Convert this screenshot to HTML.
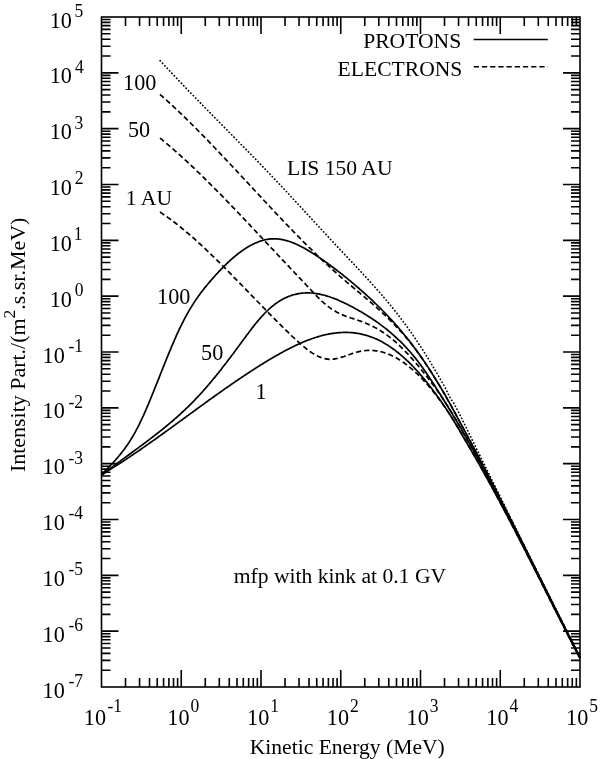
<!DOCTYPE html>
<html><head><meta charset="utf-8"><style>
html,body{margin:0;padding:0;background:#fff;width:600px;height:759px;overflow:hidden}
svg{display:block;filter:grayscale(1)}
text{font-family:"Liberation Serif",serif;fill:#000}
</style></head><body>
<svg width="600" height="759" viewBox="0 0 600 759">
<rect x="101.5" y="17.0" width="478.5" height="670.0" fill="none" stroke="#000" stroke-width="1.6"/><path d="M125.51 687.0V678.0M125.51 17.0V26.0M139.55 687.0V678.0M139.55 17.0V26.0M149.51 687.0V678.0M149.51 17.0V26.0M157.24 687.0V678.0M157.24 17.0V26.0M163.56 687.0V678.0M163.56 17.0V26.0M168.90 687.0V678.0M168.90 17.0V26.0M173.52 687.0V678.0M173.52 17.0V26.0M177.60 687.0V678.0M177.60 17.0V26.0M181.25 687.0V670.0M181.25 17.0V34.0M205.26 687.0V678.0M205.26 17.0V26.0M219.30 687.0V678.0M219.30 17.0V26.0M229.26 687.0V678.0M229.26 17.0V26.0M236.99 687.0V678.0M236.99 17.0V26.0M243.31 687.0V678.0M243.31 17.0V26.0M248.65 687.0V678.0M248.65 17.0V26.0M253.27 687.0V678.0M253.27 17.0V26.0M257.35 687.0V678.0M257.35 17.0V26.0M261.00 687.0V670.0M261.00 17.0V34.0M285.01 687.0V678.0M285.01 17.0V26.0M299.05 687.0V678.0M299.05 17.0V26.0M309.01 687.0V678.0M309.01 17.0V26.0M316.74 687.0V678.0M316.74 17.0V26.0M323.06 687.0V678.0M323.06 17.0V26.0M328.40 687.0V678.0M328.40 17.0V26.0M333.02 687.0V678.0M333.02 17.0V26.0M337.10 687.0V678.0M337.10 17.0V26.0M340.75 687.0V670.0M340.75 17.0V34.0M364.76 687.0V678.0M364.76 17.0V26.0M378.80 687.0V678.0M378.80 17.0V26.0M388.76 687.0V678.0M388.76 17.0V26.0M396.49 687.0V678.0M396.49 17.0V26.0M402.81 687.0V678.0M402.81 17.0V26.0M408.15 687.0V678.0M408.15 17.0V26.0M412.77 687.0V678.0M412.77 17.0V26.0M416.85 687.0V678.0M416.85 17.0V26.0M420.50 687.0V670.0M420.50 17.0V34.0M444.51 687.0V678.0M444.51 17.0V26.0M458.55 687.0V678.0M458.55 17.0V26.0M468.51 687.0V678.0M468.51 17.0V26.0M476.24 687.0V678.0M476.24 17.0V26.0M482.56 687.0V678.0M482.56 17.0V26.0M487.90 687.0V678.0M487.90 17.0V26.0M492.52 687.0V678.0M492.52 17.0V26.0M496.60 687.0V678.0M496.60 17.0V26.0M500.25 687.0V670.0M500.25 17.0V34.0M524.26 687.0V678.0M524.26 17.0V26.0M538.30 687.0V678.0M538.30 17.0V26.0M548.26 687.0V678.0M548.26 17.0V26.0M555.99 687.0V678.0M555.99 17.0V26.0M562.31 687.0V678.0M562.31 17.0V26.0M567.65 687.0V678.0M567.65 17.0V26.0M572.27 687.0V678.0M572.27 17.0V26.0M576.35 687.0V678.0M576.35 17.0V26.0M101.5 670.19H110.5M580.0 670.19H571.0M101.5 660.36H110.5M580.0 660.36H571.0M101.5 653.38H110.5M580.0 653.38H571.0M101.5 647.97H110.5M580.0 647.97H571.0M101.5 643.55H110.5M580.0 643.55H571.0M101.5 639.82H110.5M580.0 639.82H571.0M101.5 636.58H110.5M580.0 636.58H571.0M101.5 633.72H110.5M580.0 633.72H571.0M101.5 631.17H118.5M580.0 631.17H563.0M101.5 614.36H110.5M580.0 614.36H571.0M101.5 604.53H110.5M580.0 604.53H571.0M101.5 597.55H110.5M580.0 597.55H571.0M101.5 592.14H110.5M580.0 592.14H571.0M101.5 587.72H110.5M580.0 587.72H571.0M101.5 583.98H110.5M580.0 583.98H571.0M101.5 580.74H110.5M580.0 580.74H571.0M101.5 577.89H110.5M580.0 577.89H571.0M101.5 575.33H118.5M580.0 575.33H563.0M101.5 558.53H110.5M580.0 558.53H571.0M101.5 548.69H110.5M580.0 548.69H571.0M101.5 541.72H110.5M580.0 541.72H571.0M101.5 536.31H110.5M580.0 536.31H571.0M101.5 531.89H110.5M580.0 531.89H571.0M101.5 528.15H110.5M580.0 528.15H571.0M101.5 524.91H110.5M580.0 524.91H571.0M101.5 522.05H110.5M580.0 522.05H571.0M101.5 519.50H118.5M580.0 519.50H563.0M101.5 502.69H110.5M580.0 502.69H571.0M101.5 492.86H110.5M580.0 492.86H571.0M101.5 485.88H110.5M580.0 485.88H571.0M101.5 480.47H110.5M580.0 480.47H571.0M101.5 476.05H110.5M580.0 476.05H571.0M101.5 472.32H110.5M580.0 472.32H571.0M101.5 469.08H110.5M580.0 469.08H571.0M101.5 466.22H110.5M580.0 466.22H571.0M101.5 463.67H118.5M580.0 463.67H563.0M101.5 446.86H110.5M580.0 446.86H571.0M101.5 437.03H110.5M580.0 437.03H571.0M101.5 430.05H110.5M580.0 430.05H571.0M101.5 424.64H110.5M580.0 424.64H571.0M101.5 420.22H110.5M580.0 420.22H571.0M101.5 416.48H110.5M580.0 416.48H571.0M101.5 413.24H110.5M580.0 413.24H571.0M101.5 410.39H110.5M580.0 410.39H571.0M101.5 407.83H118.5M580.0 407.83H563.0M101.5 391.03H110.5M580.0 391.03H571.0M101.5 381.19H110.5M580.0 381.19H571.0M101.5 374.22H110.5M580.0 374.22H571.0M101.5 368.81H110.5M580.0 368.81H571.0M101.5 364.39H110.5M580.0 364.39H571.0M101.5 360.65H110.5M580.0 360.65H571.0M101.5 357.41H110.5M580.0 357.41H571.0M101.5 354.55H110.5M580.0 354.55H571.0M101.5 352.00H118.5M580.0 352.00H563.0M101.5 335.19H110.5M580.0 335.19H571.0M101.5 325.36H110.5M580.0 325.36H571.0M101.5 318.38H110.5M580.0 318.38H571.0M101.5 312.97H110.5M580.0 312.97H571.0M101.5 308.55H110.5M580.0 308.55H571.0M101.5 304.82H110.5M580.0 304.82H571.0M101.5 301.58H110.5M580.0 301.58H571.0M101.5 298.72H110.5M580.0 298.72H571.0M101.5 296.17H118.5M580.0 296.17H563.0M101.5 279.36H110.5M580.0 279.36H571.0M101.5 269.53H110.5M580.0 269.53H571.0M101.5 262.55H110.5M580.0 262.55H571.0M101.5 257.14H110.5M580.0 257.14H571.0M101.5 252.72H110.5M580.0 252.72H571.0M101.5 248.98H110.5M580.0 248.98H571.0M101.5 245.74H110.5M580.0 245.74H571.0M101.5 242.89H110.5M580.0 242.89H571.0M101.5 240.33H118.5M580.0 240.33H563.0M101.5 223.53H110.5M580.0 223.53H571.0M101.5 213.69H110.5M580.0 213.69H571.0M101.5 206.72H110.5M580.0 206.72H571.0M101.5 201.31H110.5M580.0 201.31H571.0M101.5 196.89H110.5M580.0 196.89H571.0M101.5 193.15H110.5M580.0 193.15H571.0M101.5 189.91H110.5M580.0 189.91H571.0M101.5 187.05H110.5M580.0 187.05H571.0M101.5 184.50H118.5M580.0 184.50H563.0M101.5 167.69H110.5M580.0 167.69H571.0M101.5 157.86H110.5M580.0 157.86H571.0M101.5 150.88H110.5M580.0 150.88H571.0M101.5 145.47H110.5M580.0 145.47H571.0M101.5 141.05H110.5M580.0 141.05H571.0M101.5 137.32H110.5M580.0 137.32H571.0M101.5 134.08H110.5M580.0 134.08H571.0M101.5 131.22H110.5M580.0 131.22H571.0M101.5 128.67H118.5M580.0 128.67H563.0M101.5 111.86H110.5M580.0 111.86H571.0M101.5 102.03H110.5M580.0 102.03H571.0M101.5 95.05H110.5M580.0 95.05H571.0M101.5 89.64H110.5M580.0 89.64H571.0M101.5 85.22H110.5M580.0 85.22H571.0M101.5 81.48H110.5M580.0 81.48H571.0M101.5 78.24H110.5M580.0 78.24H571.0M101.5 75.39H110.5M580.0 75.39H571.0M101.5 72.83H118.5M580.0 72.83H563.0M101.5 56.03H110.5M580.0 56.03H571.0M101.5 46.19H110.5M580.0 46.19H571.0M101.5 39.22H110.5M580.0 39.22H571.0M101.5 33.81H110.5M580.0 33.81H571.0M101.5 29.39H110.5M580.0 29.39H571.0M101.5 25.65H110.5M580.0 25.65H571.0M101.5 22.41H110.5M580.0 22.41H571.0M101.5 19.55H110.5M580.0 19.55H571.0" fill="none" stroke="#000" stroke-width="1.6"/><path d="M473.7 39.5H547.8" stroke="#000" stroke-width="1.6"/><path d="M473.7 66.7H547.8" stroke="#000" stroke-width="1.6" stroke-dasharray="5.3 2.9"/>
<path d="M101.5 474.5 L102.5 473.5 L103.5 472.5 L104.5 471.5 L105.5 470.5 L106.5 469.5 L107.5 468.5 L108.5 467.4 L109.5 466.4 L110.5 465.4 L111.5 464.3 L112.5 463.3 L113.5 462.2 L114.5 461.1 L115.5 460.0 L116.5 458.9 L117.5 457.7 L118.5 456.5 L119.5 455.3 L120.5 454.1 L121.5 452.9 L122.5 451.6 L123.5 450.3 L124.5 448.9 L125.5 447.6 L126.5 446.1 L127.5 444.7 L128.5 443.2 L129.5 441.7 L130.5 440.1 L131.5 438.5 L132.5 436.8 L133.5 435.1 L134.5 433.4 L135.5 431.6 L136.5 429.7 L137.5 427.8 L138.5 425.8 L139.5 423.8 L140.5 421.7 L141.5 419.6 L142.5 417.5 L143.5 415.3 L144.5 413.1 L145.5 410.8 L146.5 408.5 L147.5 406.1 L148.5 403.8 L149.5 401.4 L150.5 399.0 L151.5 396.5 L152.5 394.1 L153.5 391.6 L154.5 389.1 L155.5 386.6 L156.5 384.1 L157.5 381.6 L158.5 379.1 L159.5 376.6 L160.5 374.0 L161.5 371.5 L162.5 369.0 L163.5 366.5 L164.5 364.0 L165.5 361.5 L166.5 359.0 L167.5 356.6 L168.5 354.1 L169.5 351.7 L170.5 349.3 L171.5 346.9 L172.5 344.6 L173.5 342.3 L174.5 340.0 L175.5 337.7 L176.5 335.4 L177.5 333.2 L178.5 331.1 L179.5 328.9 L180.5 326.8 L181.5 324.8 L182.5 322.8 L183.5 320.8 L184.5 318.9 L185.5 317.0 L186.5 315.1 L187.5 313.3 L188.5 311.6 L189.5 309.9 L190.5 308.2 L191.5 306.6 L192.5 305.0 L193.5 303.4 L194.5 301.9 L195.5 300.4 L196.5 298.9 L197.5 297.5 L198.5 296.0 L199.5 294.7 L200.5 293.3 L201.5 292.0 L202.5 290.7 L203.5 289.4 L204.5 288.1 L205.5 286.9 L206.5 285.7 L207.5 284.5 L208.5 283.3 L209.5 282.1 L210.5 280.9 L211.5 279.8 L212.5 278.6 L213.5 277.5 L214.5 276.4 L215.5 275.2 L216.5 274.1 L217.5 273.1 L218.5 272.0 L219.5 270.9 L220.5 269.9 L221.5 268.8 L222.5 267.8 L223.5 266.8 L224.5 265.8 L225.5 264.8 L226.5 263.9 L227.5 262.9 L228.5 262.0 L229.5 261.0 L230.5 260.1 L231.5 259.2 L232.5 258.4 L233.5 257.5 L234.5 256.6 L235.5 255.8 L236.5 255.0 L237.5 254.2 L238.5 253.4 L239.5 252.7 L240.5 251.9 L241.5 251.2 L242.5 250.5 L243.5 249.8 L244.5 249.1 L245.5 248.5 L246.5 247.8 L247.5 247.2 L248.5 246.6 L249.5 246.0 L250.5 245.5 L251.5 245.0 L252.5 244.4 L253.5 243.9 L254.5 243.5 L255.5 243.0 L256.5 242.6 L257.5 242.2 L258.5 241.8 L259.5 241.4 L260.5 241.1 L261.5 240.8 L262.5 240.5 L263.5 240.2 L264.5 239.9 L265.5 239.7 L266.5 239.5 L267.5 239.3 L268.5 239.2 L269.5 239.1 L270.5 238.9 L271.5 238.9 L272.5 238.8 L273.5 238.8 L274.5 238.8 L275.5 238.8 L276.5 238.8 L277.5 238.9 L278.5 239.0 L279.5 239.1 L280.5 239.3 L281.5 239.4 L282.5 239.6 L283.5 239.8 L284.5 240.1 L285.5 240.3 L286.5 240.6 L287.5 240.9 L288.5 241.2 L289.5 241.5 L290.5 241.8 L291.5 242.2 L292.5 242.6 L293.5 243.0 L294.5 243.4 L295.5 243.8 L296.5 244.3 L297.5 244.7 L298.5 245.2 L299.5 245.7 L300.5 246.2 L301.5 246.7 L302.5 247.3 L303.5 247.8 L304.5 248.3 L305.5 248.9 L306.5 249.5 L307.5 250.1 L308.5 250.7 L309.5 251.3 L310.5 251.9 L311.5 252.5 L312.5 253.1 L313.5 253.8 L314.5 254.4 L315.5 255.1 L316.5 255.7 L317.5 256.4 L318.5 257.1 L319.5 257.7 L320.5 258.4 L321.5 259.1 L322.5 259.8 L323.5 260.5 L324.5 261.2 L325.5 261.9 L326.5 262.6 L327.5 263.3 L328.5 264.1 L329.5 264.8 L330.5 265.5 L331.5 266.3 L332.5 267.0 L333.5 267.7 L334.5 268.5 L335.5 269.3 L336.5 270.0 L337.5 270.8 L338.5 271.6 L339.5 272.3 L340.5 273.1 L341.5 273.9 L342.5 274.7 L343.5 275.5 L344.5 276.3 L345.5 277.1 L346.5 277.9 L347.5 278.7 L348.5 279.6 L349.5 280.4 L350.5 281.2 L351.5 282.1 L352.5 282.9 L353.5 283.7 L354.5 284.6 L355.5 285.4 L356.5 286.3 L357.5 287.2 L358.5 288.0 L359.5 288.9 L360.5 289.8 L361.5 290.7 L362.5 291.5 L363.5 292.4 L364.5 293.3 L365.5 294.2 L366.5 295.1 L367.5 296.0 L368.5 297.0 L369.5 297.9 L370.5 298.8 L371.5 299.7 L372.5 300.7 L373.5 301.6 L374.5 302.6 L375.5 303.5 L376.5 304.5 L377.5 305.5 L378.5 306.5 L379.5 307.5 L380.5 308.4 L381.5 309.5 L382.5 310.5 L383.5 311.5 L384.5 312.5 L385.5 313.5 L386.5 314.6 L387.5 315.6 L388.5 316.7 L389.5 317.8 L390.5 318.8 L391.5 319.9 L392.5 321.0 L393.5 322.1 L394.5 323.2 L395.5 324.4 L396.5 325.5 L397.5 326.6 L398.5 327.8 L399.5 329.0 L400.5 330.1 L401.5 331.3 L402.5 332.5 L403.5 333.7 L404.5 335.0 L405.5 336.2 L406.5 337.4 L407.5 338.7 L408.5 339.9 L409.5 341.2 L410.5 342.5 L411.5 343.8 L412.5 345.1 L413.5 346.4 L414.5 347.8 L415.5 349.1 L416.5 350.5 L417.5 351.9 L418.5 353.3 L419.5 354.7 L420.5 356.1 L421.5 357.5 L422.5 359.0 L423.5 360.4 L424.5 361.9 L425.5 363.4 L426.5 364.9 L427.5 366.4 L428.5 367.9 L429.5 369.5 L430.5 371.0 L431.5 372.6 L432.5 374.2 L433.5 375.7 L434.5 377.4 L435.5 379.0 L436.5 380.6 L437.5 382.2 L438.5 383.9 L439.5 385.5 L440.5 387.2 L441.5 388.9 L442.5 390.6 L443.5 392.3 L444.5 394.0 L445.5 395.7 L446.5 397.5 L447.5 399.4 L448.5 401.1 L449.5 402.8 L450.5 404.6 L451.5 406.4 L452.5 408.3 L453.5 410.1 L454.5 412.0 L455.5 413.8 L456.5 415.7 L457.5 417.6 L458.5 419.4 L459.5 421.3 L460.5 423.2 L461.5 425.0 L462.5 426.9 L463.5 428.8 L464.5 430.6 L465.5 432.4 L466.5 434.3 L467.5 436.2 L468.5 438.0 L469.5 439.9 L470.5 441.7 L471.5 443.6 L472.5 445.5 L473.5 447.4 L474.5 449.2 L475.5 451.1 L476.5 453.0 L477.5 454.9 L478.5 456.8 L479.5 458.7 L480.5 460.6 L481.5 462.5 L482.5 464.4 L483.5 466.3 L484.5 468.2 L485.5 470.2 L486.5 472.1 L487.5 474.0 L488.5 475.9 L489.5 477.9 L490.5 479.8 L491.5 481.7 L492.5 483.7 L493.5 485.6 L494.5 487.5 L495.5 489.5 L496.5 491.4 L497.5 493.4 L498.5 495.4 L499.5 497.3 L500.5 499.3 L501.5 501.2 L502.5 503.2 L503.5 505.2 L504.5 507.1 L505.5 509.1 L506.5 511.1 L507.5 513.1 L508.5 515.0 L509.5 517.0 L510.5 519.0 L511.5 521.0 L512.5 523.0 L513.5 525.0 L514.5 526.9 L515.5 528.9 L516.5 530.9 L517.5 532.9 L518.5 534.9 L519.5 536.9 L520.5 538.9 L521.5 540.9 L522.5 542.9 L523.5 544.9 L524.5 546.9 L525.5 548.9 L526.5 550.9 L527.5 552.9 L528.5 554.9 L529.5 556.9 L530.5 558.9 L531.5 560.9 L532.5 562.9 L533.5 564.9 L534.5 566.9 L535.5 568.9 L536.5 571.0 L537.5 573.0 L538.5 575.0 L539.5 577.0 L540.5 579.0 L541.5 581.0 L542.5 583.0 L543.5 585.0 L544.5 587.0 L545.5 589.0 L546.5 591.0 L547.5 593.0 L548.5 595.0 L549.5 597.0 L550.5 599.0 L551.5 601.0 L552.5 603.0 L553.5 605.0 L554.5 607.0 L555.5 609.0 L556.5 611.0 L557.5 613.0 L558.5 615.0 L559.5 616.9 L560.5 618.9 L561.5 620.9 L562.5 622.9 L563.5 624.9 L564.5 626.9 L565.5 628.8 L566.5 630.8 L567.5 632.8 L568.5 634.8 L569.5 636.7 L570.5 638.7 L571.5 640.7 L572.5 642.6 L573.5 644.6 L574.5 646.5 L575.5 648.5 L576.5 650.4 L577.5 652.4 L578.5 654.3 L579.5 656.3 L580.0 657.2" fill="none" stroke="#000" stroke-width="1.7"/>
<path d="M101.5 475.3 L102.5 474.5 L103.5 473.8 L104.5 473.0 L105.5 472.2 L106.5 471.4 L107.5 470.6 L108.5 469.9 L109.5 469.1 L110.5 468.3 L111.5 467.6 L112.5 466.8 L113.5 466.1 L114.5 465.3 L115.5 464.6 L116.5 463.8 L117.5 463.1 L118.5 462.3 L119.5 461.6 L120.5 460.9 L121.5 460.1 L122.5 459.4 L123.5 458.6 L124.5 457.9 L125.5 457.2 L126.5 456.4 L127.5 455.7 L128.5 455.0 L129.5 454.2 L130.5 453.5 L131.5 452.8 L132.5 452.0 L133.5 451.3 L134.5 450.6 L135.5 449.8 L136.5 449.1 L137.5 448.4 L138.5 447.6 L139.5 446.9 L140.5 446.1 L141.5 445.4 L142.5 444.7 L143.5 443.9 L144.5 443.2 L145.5 442.4 L146.5 441.7 L147.5 440.9 L148.5 440.2 L149.5 439.4 L150.5 438.6 L151.5 437.9 L152.5 437.1 L153.5 436.3 L154.5 435.6 L155.5 434.8 L156.5 434.0 L157.5 433.2 L158.5 432.5 L159.5 431.7 L160.5 430.9 L161.5 430.1 L162.5 429.3 L163.5 428.5 L164.5 427.6 L165.5 426.8 L166.5 426.0 L167.5 425.2 L168.5 424.3 L169.5 423.5 L170.5 422.7 L171.5 421.8 L172.5 421.0 L173.5 420.1 L174.5 419.2 L175.5 418.3 L176.5 417.5 L177.5 416.6 L178.5 415.7 L179.5 414.8 L180.5 413.9 L181.5 412.9 L182.5 412.0 L183.5 411.1 L184.5 410.1 L185.5 409.2 L186.5 408.2 L187.5 407.3 L188.5 406.3 L189.5 405.3 L190.5 404.3 L191.5 403.3 L192.5 402.3 L193.5 401.3 L194.5 400.3 L195.5 399.2 L196.5 398.2 L197.5 397.1 L198.5 396.0 L199.5 395.0 L200.5 393.9 L201.5 392.8 L202.5 391.7 L203.5 390.5 L204.5 389.4 L205.5 388.3 L206.5 387.1 L207.5 386.0 L208.5 384.8 L209.5 383.6 L210.5 382.4 L211.5 381.2 L212.5 380.0 L213.5 378.8 L214.5 377.6 L215.5 376.4 L216.5 375.2 L217.5 373.9 L218.5 372.7 L219.5 371.4 L220.5 370.2 L221.5 368.9 L222.5 367.6 L223.5 366.3 L224.5 365.0 L225.5 363.7 L226.5 362.4 L227.5 361.1 L228.5 359.8 L229.5 358.5 L230.5 357.2 L231.5 355.8 L232.5 354.5 L233.5 353.2 L234.5 351.8 L235.5 350.5 L236.5 349.1 L237.5 347.8 L238.5 346.4 L239.5 345.1 L240.5 343.7 L241.5 342.3 L242.5 341.0 L243.5 339.6 L244.5 338.3 L245.5 336.9 L246.5 335.5 L247.5 334.2 L248.5 332.9 L249.5 331.5 L250.5 330.2 L251.5 328.9 L252.5 327.6 L253.5 326.4 L254.5 325.1 L255.5 323.8 L256.5 322.6 L257.5 321.4 L258.5 320.2 L259.5 319.0 L260.5 317.9 L261.5 316.7 L262.5 315.6 L263.5 314.6 L264.5 313.5 L265.5 312.5 L266.5 311.5 L267.5 310.5 L268.5 309.6 L269.5 308.6 L270.5 307.8 L271.5 306.9 L272.5 306.1 L273.5 305.3 L274.5 304.5 L275.5 303.8 L276.5 303.1 L277.5 302.4 L278.5 301.7 L279.5 301.1 L280.5 300.5 L281.5 299.9 L282.5 299.3 L283.5 298.8 L284.5 298.3 L285.5 297.8 L286.5 297.4 L287.5 296.9 L288.5 296.5 L289.5 296.1 L290.5 295.8 L291.5 295.4 L292.5 295.1 L293.5 294.8 L294.5 294.5 L295.5 294.3 L296.5 294.1 L297.5 293.9 L298.5 293.7 L299.5 293.5 L300.5 293.4 L301.5 293.2 L302.5 293.1 L303.5 293.0 L304.5 293.0 L305.5 292.9 L306.5 292.9 L307.5 292.9 L308.5 292.9 L309.5 292.9 L310.5 293.0 L311.5 293.0 L312.5 293.1 L313.5 293.2 L314.5 293.3 L315.5 293.5 L316.5 293.6 L317.5 293.8 L318.5 293.9 L319.5 294.1 L320.5 294.3 L321.5 294.6 L322.5 294.8 L323.5 295.0 L324.5 295.3 L325.5 295.6 L326.5 295.9 L327.5 296.2 L328.5 296.5 L329.5 296.8 L330.5 297.2 L331.5 297.5 L332.5 297.9 L333.5 298.2 L334.5 298.6 L335.5 299.0 L336.5 299.4 L337.5 299.8 L338.5 300.3 L339.5 300.7 L340.5 301.2 L341.5 301.6 L342.5 302.1 L343.5 302.5 L344.5 303.0 L345.5 303.5 L346.5 304.0 L347.5 304.5 L348.5 305.0 L349.5 305.5 L350.5 306.0 L351.5 306.6 L352.5 307.1 L353.5 307.6 L354.5 308.2 L355.5 308.7 L356.5 309.3 L357.5 309.8 L358.5 310.4 L359.5 311.0 L360.5 311.6 L361.5 312.1 L362.5 312.7 L363.5 313.3 L364.5 313.9 L365.5 314.5 L366.5 315.1 L367.5 315.8 L368.5 316.4 L369.5 317.0 L370.5 317.7 L371.5 318.3 L372.5 319.0 L373.5 319.7 L374.5 320.3 L375.5 321.0 L376.5 321.7 L377.5 322.4 L378.5 323.1 L379.5 323.9 L380.5 324.6 L381.5 325.4 L382.5 326.1 L383.5 326.9 L384.5 327.6 L385.5 328.4 L386.5 329.2 L387.5 330.0 L388.5 330.9 L389.5 331.7 L390.5 332.5 L391.5 333.4 L392.5 334.3 L393.5 335.2 L394.5 336.1 L395.5 337.0 L396.5 337.9 L397.5 338.8 L398.5 339.8 L399.5 340.7 L400.5 341.7 L401.5 342.7 L402.5 343.7 L403.5 344.7 L404.5 345.8 L405.5 346.8 L406.5 347.9 L407.5 349.0 L408.5 350.1 L409.5 351.2 L410.5 352.3 L411.5 353.5 L412.5 354.7 L413.5 355.9 L414.5 357.1 L415.5 358.3 L416.5 359.6 L417.5 360.8 L418.5 362.1 L419.5 363.5 L420.5 364.8 L421.5 366.2 L422.5 367.5 L423.5 368.9 L424.5 370.4 L425.5 371.8 L426.5 373.2 L427.5 374.7 L428.5 376.2 L429.5 377.7 L430.5 379.2 L431.5 380.7 L432.5 382.2 L433.5 383.8 L434.5 385.3 L435.5 386.9 L436.5 388.5 L437.5 390.0 L438.5 391.6 L439.5 393.2 L440.5 394.8 L441.5 396.4 L442.5 398.0 L443.5 399.6 L444.5 401.2 L445.5 402.8 L446.5 404.4 L447.5 406.0 L448.5 407.7 L449.5 409.3 L450.5 410.9 L451.5 412.5 L452.5 414.2 L453.5 415.9 L454.5 417.5 L455.5 419.2 L456.5 420.9 L457.5 422.6 L458.5 424.3 L459.5 426.0 L460.5 427.7 L461.5 429.5 L462.5 431.2 L463.5 433.0 L464.5 434.7 L465.5 436.5 L466.5 438.2 L467.5 440.0 L468.5 441.8 L469.5 443.6 L470.5 445.3 L471.5 447.1 L472.5 448.9 L473.5 450.7 L474.5 452.5 L475.5 454.3 L476.5 456.1 L477.5 458.0 L478.5 459.8 L479.5 461.6 L480.5 463.4 L481.5 465.3 L482.5 467.1 L483.5 469.0 L484.5 470.8 L485.5 472.7 L486.5 474.5 L487.5 476.4 L488.5 478.3 L489.5 480.1 L490.5 482.0 L491.5 483.9 L492.5 485.8 L493.5 487.7 L494.5 489.6 L495.5 491.5 L496.5 493.4 L497.5 495.3 L498.5 497.2 L499.5 499.1 L500.5 501.0 L501.5 502.9 L502.5 504.9 L503.5 506.8 L504.5 508.7 L505.5 510.6 L506.5 512.6 L507.5 514.5 L508.5 516.5 L509.5 518.4 L510.5 520.4 L511.5 522.3 L512.5 524.3 L513.5 526.2 L514.5 528.2 L515.5 530.2 L516.5 532.1 L517.5 534.1 L518.5 536.1 L519.5 538.1 L520.5 540.0 L521.5 542.0 L522.5 544.0 L523.5 546.0 L524.5 548.0 L525.5 549.9 L526.5 551.9 L527.5 553.9 L528.5 555.9 L529.5 557.9 L530.5 559.9 L531.5 561.9 L532.5 563.9 L533.5 565.9 L534.5 567.9 L535.5 569.9 L536.5 571.9 L537.5 573.9 L538.5 575.9 L539.5 577.9 L540.5 579.9 L541.5 581.9 L542.5 583.8 L543.5 585.8 L544.5 587.8 L545.5 589.8 L546.5 591.8 L547.5 593.8 L548.5 595.8 L549.5 597.8 L550.5 599.8 L551.5 601.8 L552.5 603.8 L553.5 605.8 L554.5 607.8 L555.5 609.8 L556.5 611.7 L557.5 613.7 L558.5 615.7 L559.5 617.7 L560.5 619.7 L561.5 621.6 L562.5 623.6 L563.5 625.6 L564.5 627.5 L565.5 629.5 L566.5 631.5 L567.5 633.4 L568.5 635.4 L569.5 637.3 L570.5 639.3 L571.5 641.2 L572.5 643.2 L573.5 645.1 L574.5 647.1 L575.5 649.0 L576.5 650.9 L577.5 652.9 L578.5 654.8 L579.5 656.7 L580.0 657.6" fill="none" stroke="#000" stroke-width="1.7"/>
<path d="M101.5 474.7 L102.5 474.1 L103.5 473.5 L104.5 472.9 L105.5 472.3 L106.5 471.7 L107.5 471.1 L108.5 470.5 L109.5 469.9 L110.5 469.2 L111.5 468.6 L112.5 468.0 L113.5 467.4 L114.5 466.7 L115.5 466.1 L116.5 465.5 L117.5 464.8 L118.5 464.2 L119.5 463.6 L120.5 462.9 L121.5 462.3 L122.5 461.6 L123.5 461.0 L124.5 460.3 L125.5 459.6 L126.5 459.0 L127.5 458.3 L128.5 457.6 L129.5 457.0 L130.5 456.3 L131.5 455.6 L132.5 455.0 L133.5 454.3 L134.5 453.6 L135.5 452.9 L136.5 452.3 L137.5 451.6 L138.5 450.9 L139.5 450.2 L140.5 449.5 L141.5 448.8 L142.5 448.1 L143.5 447.4 L144.5 446.7 L145.5 446.0 L146.5 445.3 L147.5 444.6 L148.5 443.9 L149.5 443.2 L150.5 442.5 L151.5 441.8 L152.5 441.1 L153.5 440.4 L154.5 439.7 L155.5 439.0 L156.5 438.3 L157.5 437.6 L158.5 436.8 L159.5 436.1 L160.5 435.4 L161.5 434.7 L162.5 434.0 L163.5 433.2 L164.5 432.5 L165.5 431.8 L166.5 431.1 L167.5 430.4 L168.5 429.6 L169.5 428.9 L170.5 428.2 L171.5 427.5 L172.5 426.7 L173.5 426.0 L174.5 425.3 L175.5 424.6 L176.5 423.8 L177.5 423.1 L178.5 422.4 L179.5 421.6 L180.5 420.9 L181.5 420.2 L182.5 419.5 L183.5 418.7 L184.5 418.0 L185.5 417.3 L186.5 416.5 L187.5 415.8 L188.5 415.1 L189.5 414.3 L190.5 413.6 L191.5 412.9 L192.5 412.2 L193.5 411.4 L194.5 410.7 L195.5 410.0 L196.5 409.2 L197.5 408.5 L198.5 407.8 L199.5 407.1 L200.5 406.3 L201.5 405.6 L202.5 404.9 L203.5 404.2 L204.5 403.4 L205.5 402.7 L206.5 402.0 L207.5 401.3 L208.5 400.5 L209.5 399.8 L210.5 399.1 L211.5 398.4 L212.5 397.7 L213.5 397.0 L214.5 396.2 L215.5 395.5 L216.5 394.8 L217.5 394.1 L218.5 393.4 L219.5 392.7 L220.5 392.0 L221.5 391.3 L222.5 390.6 L223.5 389.9 L224.5 389.1 L225.5 388.4 L226.5 387.7 L227.5 387.0 L228.5 386.4 L229.5 385.7 L230.5 385.0 L231.5 384.3 L232.5 383.6 L233.5 382.9 L234.5 382.2 L235.5 381.5 L236.5 380.8 L237.5 380.2 L238.5 379.5 L239.5 378.8 L240.5 378.1 L241.5 377.5 L242.5 376.8 L243.5 376.1 L244.5 375.5 L245.5 374.8 L246.5 374.1 L247.5 373.5 L248.5 372.8 L249.5 372.2 L250.5 371.5 L251.5 370.9 L252.5 370.2 L253.5 369.6 L254.5 368.9 L255.5 368.3 L256.5 367.6 L257.5 367.0 L258.5 366.4 L259.5 365.7 L260.5 365.1 L261.5 364.5 L262.5 363.9 L263.5 363.3 L264.5 362.6 L265.5 362.0 L266.5 361.4 L267.5 360.8 L268.5 360.2 L269.5 359.6 L270.5 359.0 L271.5 358.4 L272.5 357.8 L273.5 357.3 L274.5 356.7 L275.5 356.1 L276.5 355.5 L277.5 355.0 L278.5 354.4 L279.5 353.8 L280.5 353.3 L281.5 352.7 L282.5 352.2 L283.5 351.6 L284.5 351.1 L285.5 350.5 L286.5 350.0 L287.5 349.5 L288.5 349.0 L289.5 348.5 L290.5 348.0 L291.5 347.5 L292.5 347.0 L293.5 346.5 L294.5 346.0 L295.5 345.5 L296.5 345.0 L297.5 344.6 L298.5 344.1 L299.5 343.7 L300.5 343.2 L301.5 342.8 L302.5 342.4 L303.5 341.9 L304.5 341.5 L305.5 341.1 L306.5 340.7 L307.5 340.3 L308.5 339.9 L309.5 339.6 L310.5 339.2 L311.5 338.8 L312.5 338.5 L313.5 338.1 L314.5 337.8 L315.5 337.5 L316.5 337.2 L317.5 336.9 L318.5 336.6 L319.5 336.3 L320.5 336.0 L321.5 335.7 L322.5 335.5 L323.5 335.2 L324.5 335.0 L325.5 334.7 L326.5 334.5 L327.5 334.3 L328.5 334.1 L329.5 333.9 L330.5 333.7 L331.5 333.6 L332.5 333.4 L333.5 333.3 L334.5 333.1 L335.5 333.0 L336.5 332.9 L337.5 332.8 L338.5 332.7 L339.5 332.6 L340.5 332.6 L341.5 332.5 L342.5 332.5 L343.5 332.4 L344.5 332.4 L345.5 332.4 L346.5 332.4 L347.5 332.4 L348.5 332.5 L349.5 332.5 L350.5 332.6 L351.5 332.6 L352.5 332.7 L353.5 332.8 L354.5 332.9 L355.5 333.1 L356.5 333.2 L357.5 333.4 L358.5 333.5 L359.5 333.7 L360.5 333.9 L361.5 334.1 L362.5 334.4 L363.5 334.6 L364.5 334.9 L365.5 335.1 L366.5 335.4 L367.5 335.7 L368.5 336.0 L369.5 336.4 L370.5 336.7 L371.5 337.1 L372.5 337.5 L373.5 337.8 L374.5 338.3 L375.5 338.7 L376.5 339.1 L377.5 339.6 L378.5 340.1 L379.5 340.6 L380.5 341.1 L381.5 341.6 L382.5 342.1 L383.5 342.7 L384.5 343.3 L385.5 343.9 L386.5 344.5 L387.5 345.1 L388.5 345.7 L389.5 346.4 L390.5 347.1 L391.5 347.8 L392.5 348.5 L393.5 349.2 L394.5 349.9 L395.5 350.7 L396.5 351.5 L397.5 352.2 L398.5 353.0 L399.5 353.9 L400.5 354.7 L401.5 355.6 L402.5 356.4 L403.5 357.3 L404.5 358.2 L405.5 359.1 L406.5 360.0 L407.5 361.0 L408.5 361.9 L409.5 362.9 L410.5 363.9 L411.5 364.9 L412.5 366.0 L413.5 367.0 L414.5 368.1 L415.5 369.1 L416.5 370.2 L417.5 371.3 L418.5 372.4 L419.5 373.6 L420.5 374.7 L421.5 375.9 L422.5 377.1 L423.5 378.2 L424.5 379.4 L425.5 380.7 L426.5 381.9 L427.5 383.2 L428.5 384.4 L429.5 385.7 L430.5 387.0 L431.5 388.3 L432.5 389.6 L433.5 390.9 L434.5 392.3 L435.5 393.6 L436.5 395.0 L437.5 396.4 L438.5 397.8 L439.5 399.2 L440.5 400.6 L441.5 402.0 L442.5 403.5 L443.5 404.9 L444.5 406.4 L445.5 407.9 L446.5 409.4 L447.5 410.9 L448.5 412.4 L449.5 414.0 L450.5 415.5 L451.5 417.1 L452.5 418.7 L453.5 420.3 L454.5 422.0 L455.5 423.6 L456.5 425.3 L457.5 427.0 L458.5 428.7 L459.5 430.4 L460.5 432.1 L461.5 433.8 L462.5 435.5 L463.5 437.2 L464.5 438.9 L465.5 440.6 L466.5 442.3 L467.5 444.0 L468.5 445.7 L469.5 447.4 L470.5 449.1 L471.5 450.9 L472.5 452.6 L473.5 454.3 L474.5 456.1 L475.5 457.8 L476.5 459.6 L477.5 461.3 L478.5 463.1 L479.5 464.8 L480.5 466.6 L481.5 468.4 L482.5 470.2 L483.5 472.0 L484.5 473.8 L485.5 475.6 L486.5 477.4 L487.5 479.2 L488.5 481.0 L489.5 482.8 L490.5 484.6 L491.5 486.4 L492.5 488.3 L493.5 490.1 L494.5 492.0 L495.5 493.8 L496.5 495.7 L497.5 497.5 L498.5 499.4 L499.5 501.2 L500.5 503.1 L501.5 505.0 L502.5 506.9 L503.5 508.8 L504.5 510.6 L505.5 512.5 L506.5 514.4 L507.5 516.3 L508.5 518.2 L509.5 520.1 L510.5 522.1 L511.5 524.0 L512.5 525.9 L513.5 527.8 L514.5 529.7 L515.5 531.7 L516.5 533.6 L517.5 535.5 L518.5 537.5 L519.5 539.4 L520.5 541.4 L521.5 543.3 L522.5 545.3 L523.5 547.2 L524.5 549.2 L525.5 551.1 L526.5 553.1 L527.5 555.0 L528.5 557.0 L529.5 559.0 L530.5 560.9 L531.5 562.9 L532.5 564.9 L533.5 566.9 L534.5 568.8 L535.5 570.8 L536.5 572.8 L537.5 574.8 L538.5 576.8 L539.5 578.7 L540.5 580.7 L541.5 582.7 L542.5 584.7 L543.5 586.7 L544.5 588.6 L545.5 590.6 L546.5 592.6 L547.5 594.6 L548.5 596.6 L549.5 598.6 L550.5 600.5 L551.5 602.5 L552.5 604.5 L553.5 606.5 L554.5 608.5 L555.5 610.5 L556.5 612.4 L557.5 614.4 L558.5 616.4 L559.5 618.4 L560.5 620.3 L561.5 622.3 L562.5 624.3 L563.5 626.2 L564.5 628.2 L565.5 630.2 L566.5 632.1 L567.5 634.1 L568.5 636.0 L569.5 638.0 L570.5 640.0 L571.5 641.9 L572.5 643.8 L573.5 645.8 L574.5 647.7 L575.5 649.7 L576.5 651.6 L577.5 653.5 L578.5 655.5 L579.5 657.4 L580.0 658.0" fill="none" stroke="#000" stroke-width="1.7"/>
<path d="M160.0 94.4 L161.0 95.3 L162.0 96.2 L163.0 97.1 L164.0 98.0 L165.0 98.9 L166.0 99.8 L167.0 100.7 L168.0 101.6 L169.0 102.5 L170.0 103.4 L171.0 104.3 L172.0 105.3 L173.0 106.2 L174.0 107.1 L175.0 108.0 L176.0 109.0 L177.0 109.9 L178.0 110.9 L179.0 111.8 L180.0 112.8 L181.0 113.7 L182.0 114.7 L183.0 115.7 L184.0 116.6 L185.0 117.6 L186.0 118.6 L187.0 119.6 L188.0 120.5 L189.0 121.5 L190.0 122.5 L191.0 123.5 L192.0 124.5 L193.0 125.5 L194.0 126.5 L195.0 127.5 L196.0 128.5 L197.0 129.5 L198.0 130.5 L199.0 131.5 L200.0 132.5 L201.0 133.5 L202.0 134.6 L203.0 135.6 L204.0 136.6 L205.0 137.6 L206.0 138.7 L207.0 139.7 L208.0 140.7 L209.0 141.8 L210.0 142.8 L211.0 143.8 L212.0 144.9 L213.0 145.9 L214.0 147.0 L215.0 148.0 L216.0 149.1 L217.0 150.1 L218.0 151.2 L219.0 152.2 L220.0 153.3 L221.0 154.3 L222.0 155.4 L223.0 156.4 L224.0 157.5 L225.0 158.6 L226.0 159.6 L227.0 160.7 L228.0 161.8 L229.0 162.8 L230.0 163.9 L231.0 165.0 L232.0 166.0 L233.0 167.1 L234.0 168.2 L235.0 169.2 L236.0 170.3 L237.0 171.4 L238.0 172.5 L239.0 173.5 L240.0 174.6 L241.0 175.7 L242.0 176.8 L243.0 177.8 L244.0 178.9 L245.0 180.0 L246.0 181.1 L247.0 182.2 L248.0 183.2 L249.0 184.3 L250.0 185.4 L251.0 186.5 L252.0 187.5 L253.0 188.6 L254.0 189.7 L255.0 190.8 L256.0 191.9 L257.0 192.9 L258.0 194.0 L259.0 195.1 L260.0 196.2 L261.0 197.2 L262.0 198.3 L263.0 199.4 L264.0 200.5 L265.0 201.5 L266.0 202.6 L267.0 203.7 L268.0 204.7 L269.0 205.8 L270.0 206.9 L271.0 207.9 L272.0 209.0 L273.0 210.1 L274.0 211.1 L275.0 212.2 L276.0 213.3 L277.0 214.3 L278.0 215.4 L279.0 216.4 L280.0 217.5 L281.0 218.5 L282.0 219.6 L283.0 220.7 L284.0 221.7 L285.0 222.7 L286.0 223.8 L287.0 224.8 L288.0 225.9 L289.0 226.9 L290.0 228.0 L291.0 229.0 L292.0 230.0 L293.0 231.1 L294.0 232.1 L295.0 233.1 L296.0 234.1 L297.0 235.2 L298.0 236.2 L299.0 237.2 L300.0 238.2 L301.0 239.2 L302.0 240.3 L303.0 241.3 L304.0 242.3 L305.0 243.3 L306.0 244.3 L307.0 245.3 L308.0 246.3 L309.0 247.3 L310.0 248.2 L311.0 249.2 L312.0 250.2 L313.0 251.2 L314.0 252.2 L315.0 253.1 L316.0 254.1 L317.0 255.1 L318.0 256.0 L319.0 257.0 L320.0 258.0 L321.0 258.9 L322.0 259.9 L323.0 260.8 L324.0 261.7 L325.0 262.7 L326.0 263.6 L327.0 264.5 L328.0 265.5 L329.0 266.4 L330.0 267.3 L331.0 268.2 L332.0 269.1 L333.0 270.0 L334.0 270.9 L335.0 271.8 L336.0 272.7 L337.0 273.6 L338.0 274.5 L339.0 275.4 L340.0 276.3 L341.0 277.1 L342.0 278.0 L343.0 278.9 L344.0 279.7 L345.0 280.6 L346.0 281.4 L347.0 282.3 L348.0 283.1 L349.0 284.0 L350.0 284.8 L351.0 285.7 L352.0 286.5 L353.0 287.3 L354.0 288.2 L355.0 289.0 L356.0 289.9 L357.0 290.7 L358.0 291.5 L359.0 292.4 L360.0 293.2 L361.0 294.1 L362.0 294.9 L363.0 295.7 L364.0 296.6 L365.0 297.4 L366.0 298.3 L367.0 299.1 L368.0 300.0 L369.0 300.8 L370.0 301.7 L371.0 302.6 L372.0 303.4 L373.0 304.3 L374.0 305.2 L375.0 306.1 L376.0 307.0 L377.0 307.9 L378.0 308.8 L379.0 309.7 L380.0 310.6 L381.0 311.5 L382.0 312.4 L383.0 313.4 L384.0 314.3 L385.0 315.2 L386.0 316.2 L387.0 317.2 L388.0 318.1 L389.0 319.1 L390.0 320.1 L391.0 321.1 L392.0 322.1 L393.0 323.1 L394.0 324.2 L395.0 325.2 L396.0 326.3 L397.0 327.3 L398.0 328.4 L399.0 329.5 L400.0 330.6 L401.0 331.7 L402.0 332.8 L403.0 333.9 L404.0 335.1 L405.0 336.3 L406.0 337.4 L407.0 338.6 L408.0 339.8 L409.0 341.0 L410.0 342.3 L411.0 343.5 L412.0 344.8 L413.0 346.1 L414.0 347.4 L415.0 348.7 L416.0 350.0 L417.0 351.3 L418.0 352.7 L419.0 354.1 L420.0 355.5 L421.0 356.9 L422.0 358.3 L423.0 359.7 L424.0 361.2 L425.0 362.7 L426.0 364.2 L427.0 365.7 L428.0 367.2 L429.0 368.7 L430.0 370.2 L431.0 371.8 L432.0 373.4 L433.0 375.0 L434.0 376.6 L435.0 378.2 L436.0 379.8 L437.0 381.4 L438.0 383.1 L439.0 384.7 L440.0 386.4 L441.0 388.1 L442.0 389.8 L443.0 391.5 L444.0 393.2 L445.0 394.9 L446.0 396.7 L447.0 398.6 L448.0 400.4 L449.0 402.1 L450.0 403.8 L451.0 405.6 L452.0 407.4 L453.0 409.3 L454.0 411.1 L455.0 413.0 L456.0 414.8 L457.0 416.7 L458.0 418.6 L459.0 420.4 L460.0 422.3 L461.0 424.1 L462.0 426.0 L463.0 427.8 L464.0 429.7 L465.0 431.5 L466.0 433.4 L467.0 435.2 L468.0 437.1 L469.0 438.9 L470.0 440.8 L471.0 442.7 L472.0 444.5 L473.0 446.4 L474.0 448.3 L475.0 450.2 L476.0 452.1 L477.0 454.0 L478.0 455.8 L479.0 457.7 L480.0 459.6 L481.0 461.5 L482.0 463.5 L483.0 465.4 L484.0 467.3 L485.0 469.2 L486.0 471.1 L487.0 473.0 L488.0 475.0 L489.0 476.9 L490.0 478.8 L491.0 480.8 L492.0 482.7 L493.0 484.6 L494.0 486.6 L495.0 488.5 L496.0 490.5 L497.0 492.4 L498.0 494.4 L499.0 496.3 L500.0 498.3 L501.0 500.3 L502.0 502.2 L503.0 504.2 L504.0 506.2 L505.0 508.1 L506.0 510.1 L507.0 512.1 L508.0 514.0 L509.0 516.0 L510.0 518.0 L511.0 520.0 L512.0 522.0 L513.0 524.0 L514.0 525.9 L515.0 527.9 L516.0 529.9 L517.0 531.9 L518.0 533.9 L519.0 535.9 L520.0 537.9 L521.0 539.9 L522.0 541.9 L523.0 543.9 L524.0 545.9 L525.0 547.9 L526.0 549.9 L527.0 551.9 L528.0 553.9 L529.0 555.9 L530.0 557.9 L531.0 559.9 L532.0 561.9 L533.0 563.9 L534.0 565.9 L535.0 567.9 L536.0 569.9 L537.0 572.0 L538.0 574.0 L539.0 576.0 L540.0 578.0 L541.0 580.0 L542.0 582.0 L543.0 584.0 L544.0 586.0 L545.0 588.0 L546.0 590.0 L547.0 592.0 L548.0 594.0 L549.0 596.0 L550.0 598.0 L551.0 600.0 L552.0 602.0 L553.0 604.0 L554.0 606.0 L555.0 608.0 L556.0 610.0 L557.0 612.0 L558.0 614.0 L559.0 616.0 L560.0 617.9 L561.0 619.9 L562.0 621.9 L563.0 623.9 L564.0 625.9 L565.0 627.8 L566.0 629.8 L567.0 631.8 L568.0 633.8 L569.0 635.7 L570.0 637.7 L571.0 639.7 L572.0 641.6 L573.0 643.6 L574.0 645.6 L575.0 647.5 L576.0 649.5 L577.0 651.4 L578.0 653.4 L579.0 655.3 L580.0 657.2" fill="none" stroke="#000" stroke-width="1.7" stroke-dasharray="5.2 3"/>
<path d="M160.0 138.1 L161.0 138.9 L162.0 139.7 L163.0 140.6 L164.0 141.4 L165.0 142.2 L166.0 143.1 L167.0 143.9 L168.0 144.7 L169.0 145.6 L170.0 146.4 L171.0 147.3 L172.0 148.2 L173.0 149.0 L174.0 149.9 L175.0 150.8 L176.0 151.7 L177.0 152.6 L178.0 153.4 L179.0 154.3 L180.0 155.2 L181.0 156.1 L182.0 157.0 L183.0 157.9 L184.0 158.9 L185.0 159.8 L186.0 160.7 L187.0 161.6 L188.0 162.5 L189.0 163.5 L190.0 164.4 L191.0 165.4 L192.0 166.3 L193.0 167.2 L194.0 168.2 L195.0 169.1 L196.0 170.1 L197.0 171.1 L198.0 172.0 L199.0 173.0 L200.0 173.9 L201.0 174.9 L202.0 175.9 L203.0 176.9 L204.0 177.8 L205.0 178.8 L206.0 179.8 L207.0 180.8 L208.0 181.8 L209.0 182.8 L210.0 183.8 L211.0 184.8 L212.0 185.8 L213.0 186.8 L214.0 187.8 L215.0 188.8 L216.0 189.8 L217.0 190.8 L218.0 191.8 L219.0 192.9 L220.0 193.9 L221.0 194.9 L222.0 195.9 L223.0 196.9 L224.0 198.0 L225.0 199.0 L226.0 200.0 L227.0 201.1 L228.0 202.1 L229.0 203.1 L230.0 204.2 L231.0 205.2 L232.0 206.3 L233.0 207.3 L234.0 208.3 L235.0 209.4 L236.0 210.4 L237.0 211.5 L238.0 212.5 L239.0 213.6 L240.0 214.6 L241.0 215.7 L242.0 216.7 L243.0 217.8 L244.0 218.9 L245.0 219.9 L246.0 221.0 L247.0 222.0 L248.0 223.1 L249.0 224.2 L250.0 225.2 L251.0 226.3 L252.0 227.3 L253.0 228.4 L254.0 229.5 L255.0 230.5 L256.0 231.6 L257.0 232.7 L258.0 233.7 L259.0 234.8 L260.0 235.9 L261.0 236.9 L262.0 238.0 L263.0 239.1 L264.0 240.1 L265.0 241.2 L266.0 242.3 L267.0 243.3 L268.0 244.4 L269.0 245.5 L270.0 246.5 L271.0 247.6 L272.0 248.7 L273.0 249.7 L274.0 250.8 L275.0 251.9 L276.0 252.9 L277.0 254.0 L278.0 255.1 L279.0 256.1 L280.0 257.2 L281.0 258.2 L282.0 259.3 L283.0 260.4 L284.0 261.4 L285.0 262.5 L286.0 263.5 L287.0 264.6 L288.0 265.7 L289.0 266.7 L290.0 267.8 L291.0 268.8 L292.0 269.9 L293.0 270.9 L294.0 272.0 L295.0 273.1 L296.0 274.1 L297.0 275.2 L298.0 276.2 L299.0 277.3 L300.0 278.3 L301.0 279.4 L302.0 280.5 L303.0 281.5 L304.0 282.6 L305.0 283.6 L306.0 284.7 L307.0 285.8 L308.0 286.8 L309.0 287.9 L310.0 289.0 L311.0 290.0 L312.0 291.1 L313.0 292.2 L314.0 293.2 L315.0 294.3 L316.0 295.3 L317.0 296.3 L318.0 297.4 L319.0 298.4 L320.0 299.3 L321.0 300.3 L322.0 301.3 L323.0 302.2 L324.0 303.1 L325.0 303.9 L326.0 304.8 L327.0 305.6 L328.0 306.4 L329.0 307.1 L330.0 307.9 L331.0 308.6 L332.0 309.3 L333.0 309.9 L334.0 310.5 L335.0 311.1 L336.0 311.7 L337.0 312.3 L338.0 312.8 L339.0 313.3 L340.0 313.8 L341.0 314.3 L342.0 314.7 L343.0 315.1 L344.0 315.5 L345.0 315.9 L346.0 316.3 L347.0 316.6 L348.0 317.0 L349.0 317.3 L350.0 317.6 L351.0 318.0 L352.0 318.3 L353.0 318.6 L354.0 318.9 L355.0 319.2 L356.0 319.6 L357.0 319.9 L358.0 320.2 L359.0 320.6 L360.0 320.9 L361.0 321.3 L362.0 321.6 L363.0 322.0 L364.0 322.4 L365.0 322.8 L366.0 323.3 L367.0 323.7 L368.0 324.1 L369.0 324.6 L370.0 325.0 L371.0 325.5 L372.0 326.0 L373.0 326.5 L374.0 327.0 L375.0 327.6 L376.0 328.1 L377.0 328.7 L378.0 329.2 L379.0 329.8 L380.0 330.4 L381.0 331.1 L382.0 331.7 L383.0 332.3 L384.0 333.0 L385.0 333.7 L386.0 334.4 L387.0 335.1 L388.0 335.9 L389.0 336.6 L390.0 337.4 L391.0 338.2 L392.0 339.0 L393.0 339.8 L394.0 340.7 L395.0 341.5 L396.0 342.4 L397.0 343.3 L398.0 344.2 L399.0 345.2 L400.0 346.1 L401.0 347.1 L402.0 348.1 L403.0 349.1 L404.0 350.1 L405.0 351.1 L406.0 352.1 L407.0 353.2 L408.0 354.2 L409.0 355.3 L410.0 356.4 L411.0 357.5 L412.0 358.6 L413.0 359.8 L414.0 360.9 L415.0 362.1 L416.0 363.2 L417.0 364.4 L418.0 365.6 L419.0 366.8 L420.0 368.0 L421.0 369.2 L422.0 370.5 L423.0 371.7 L424.0 373.0 L425.0 374.2 L426.0 375.5 L427.0 376.8 L428.0 378.1 L429.0 379.4 L430.0 380.7 L431.0 382.1 L432.0 383.4 L433.0 384.8 L434.0 386.1 L435.0 387.5 L436.0 388.9 L437.0 390.3 L438.0 391.7 L439.0 393.2 L440.0 394.6 L441.0 396.1 L442.0 397.5 L443.0 399.0 L444.0 400.5 L445.0 402.1 L446.0 403.6 L447.0 405.1 L448.0 406.7 L449.0 408.3 L450.0 409.9 L451.0 411.5 L452.0 413.1 L453.0 414.8 L454.0 416.5 L455.0 418.2 L456.0 419.9 L457.0 421.6 L458.0 423.3 L459.0 425.1 L460.0 426.8 L461.0 428.6 L462.0 430.3 L463.0 432.1 L464.0 433.8 L465.0 435.6 L466.0 437.4 L467.0 439.1 L468.0 440.9 L469.0 442.7 L470.0 444.4 L471.0 446.2 L472.0 448.0 L473.0 449.8 L474.0 451.6 L475.0 453.4 L476.0 455.2 L477.0 457.0 L478.0 458.9 L479.0 460.7 L480.0 462.5 L481.0 464.4 L482.0 466.2 L483.0 468.0 L484.0 469.9 L485.0 471.7 L486.0 473.6 L487.0 475.5 L488.0 477.3 L489.0 479.2 L490.0 481.1 L491.0 482.9 L492.0 484.8 L493.0 486.7 L494.0 488.6 L495.0 490.5 L496.0 492.4 L497.0 494.3 L498.0 496.2 L499.0 498.1 L500.0 500.0 L501.0 502.0 L502.0 503.9 L503.0 505.8 L504.0 507.7 L505.0 509.7 L506.0 511.6 L507.0 513.6 L508.0 515.5 L509.0 517.4 L510.0 519.4 L511.0 521.4 L512.0 523.3 L513.0 525.3 L514.0 527.2 L515.0 529.2 L516.0 531.2 L517.0 533.1 L518.0 535.1 L519.0 537.1 L520.0 539.0 L521.0 541.0 L522.0 543.0 L523.0 545.0 L524.0 547.0 L525.0 549.0 L526.0 550.9 L527.0 552.9 L528.0 554.9 L529.0 556.9 L530.0 558.9 L531.0 560.9 L532.0 562.9 L533.0 564.9 L534.0 566.9 L535.0 568.9 L536.0 570.9 L537.0 572.9 L538.0 574.9 L539.0 576.9 L540.0 578.9 L541.0 580.9 L542.0 582.9 L543.0 584.8 L544.0 586.8 L545.0 588.8 L546.0 590.8 L547.0 592.8 L548.0 594.8 L549.0 596.8 L550.0 598.8 L551.0 600.8 L552.0 602.8 L553.0 604.8 L554.0 606.8 L555.0 608.8 L556.0 610.7 L557.0 612.7 L558.0 614.7 L559.0 616.7 L560.0 618.7 L561.0 620.6 L562.0 622.6 L563.0 624.6 L564.0 626.6 L565.0 628.5 L566.0 630.5 L567.0 632.4 L568.0 634.4 L569.0 636.4 L570.0 638.3 L571.0 640.3 L572.0 642.2 L573.0 644.2 L574.0 646.1 L575.0 648.0 L576.0 650.0 L577.0 651.9 L578.0 653.8 L579.0 655.7 L580.0 657.6" fill="none" stroke="#000" stroke-width="1.7" stroke-dasharray="5.2 3"/>
<path d="M160.0 212.1 L161.0 212.7 L162.0 213.4 L163.0 214.1 L164.0 214.8 L165.0 215.4 L166.0 216.1 L167.0 216.8 L168.0 217.6 L169.0 218.3 L170.0 219.0 L171.0 219.7 L172.0 220.5 L173.0 221.2 L174.0 222.0 L175.0 222.7 L176.0 223.5 L177.0 224.3 L178.0 225.1 L179.0 225.9 L180.0 226.7 L181.0 227.5 L182.0 228.3 L183.0 229.1 L184.0 229.9 L185.0 230.8 L186.0 231.6 L187.0 232.5 L188.0 233.3 L189.0 234.2 L190.0 235.0 L191.0 235.9 L192.0 236.8 L193.0 237.7 L194.0 238.5 L195.0 239.4 L196.0 240.3 L197.0 241.2 L198.0 242.1 L199.0 243.1 L200.0 244.0 L201.0 244.9 L202.0 245.8 L203.0 246.7 L204.0 247.7 L205.0 248.6 L206.0 249.6 L207.0 250.5 L208.0 251.5 L209.0 252.4 L210.0 253.4 L211.0 254.3 L212.0 255.3 L213.0 256.3 L214.0 257.2 L215.0 258.2 L216.0 259.2 L217.0 260.2 L218.0 261.2 L219.0 262.2 L220.0 263.2 L221.0 264.1 L222.0 265.1 L223.0 266.1 L224.0 267.1 L225.0 268.1 L226.0 269.2 L227.0 270.2 L228.0 271.2 L229.0 272.2 L230.0 273.2 L231.0 274.2 L232.0 275.2 L233.0 276.2 L234.0 277.3 L235.0 278.3 L236.0 279.3 L237.0 280.3 L238.0 281.4 L239.0 282.4 L240.0 283.4 L241.0 284.4 L242.0 285.5 L243.0 286.5 L244.0 287.5 L245.0 288.6 L246.0 289.6 L247.0 290.6 L248.0 291.7 L249.0 292.7 L250.0 293.7 L251.0 294.8 L252.0 295.8 L253.0 296.8 L254.0 297.9 L255.0 298.9 L256.0 299.9 L257.0 301.0 L258.0 302.0 L259.0 303.0 L260.0 304.0 L261.0 305.1 L262.0 306.1 L263.0 307.1 L264.0 308.1 L265.0 309.2 L266.0 310.2 L267.0 311.2 L268.0 312.2 L269.0 313.3 L270.0 314.3 L271.0 315.3 L272.0 316.3 L273.0 317.3 L274.0 318.3 L275.0 319.3 L276.0 320.3 L277.0 321.3 L278.0 322.3 L279.0 323.3 L280.0 324.3 L281.0 325.3 L282.0 326.3 L283.0 327.3 L284.0 328.3 L285.0 329.3 L286.0 330.3 L287.0 331.2 L288.0 332.2 L289.0 333.2 L290.0 334.1 L291.0 335.1 L292.0 336.1 L293.0 337.0 L294.0 338.0 L295.0 338.9 L296.0 339.8 L297.0 340.8 L298.0 341.7 L299.0 342.6 L300.0 343.5 L301.0 344.4 L302.0 345.2 L303.0 346.1 L304.0 346.9 L305.0 347.7 L306.0 348.5 L307.0 349.3 L308.0 350.1 L309.0 350.8 L310.0 351.5 L311.0 352.2 L312.0 352.9 L313.0 353.5 L314.0 354.1 L315.0 354.7 L316.0 355.2 L317.0 355.8 L318.0 356.3 L319.0 356.7 L320.0 357.1 L321.0 357.5 L322.0 357.9 L323.0 358.2 L324.0 358.5 L325.0 358.7 L326.0 358.9 L327.0 359.1 L328.0 359.2 L329.0 359.3 L330.0 359.3 L331.0 359.3 L332.0 359.3 L333.0 359.2 L334.0 359.1 L335.0 358.9 L336.0 358.7 L337.0 358.5 L338.0 358.3 L339.0 358.0 L340.0 357.7 L341.0 357.4 L342.0 357.1 L343.0 356.8 L344.0 356.5 L345.0 356.1 L346.0 355.8 L347.0 355.4 L348.0 355.0 L349.0 354.7 L350.0 354.3 L351.0 354.0 L352.0 353.6 L353.0 353.3 L354.0 353.0 L355.0 352.6 L356.0 352.4 L357.0 352.1 L358.0 351.8 L359.0 351.6 L360.0 351.4 L361.0 351.2 L362.0 351.0 L363.0 350.9 L364.0 350.7 L365.0 350.6 L366.0 350.5 L367.0 350.5 L368.0 350.4 L369.0 350.4 L370.0 350.4 L371.0 350.4 L372.0 350.4 L373.0 350.5 L374.0 350.6 L375.0 350.7 L376.0 350.8 L377.0 350.9 L378.0 351.1 L379.0 351.3 L380.0 351.5 L381.0 351.7 L382.0 352.0 L383.0 352.3 L384.0 352.6 L385.0 352.9 L386.0 353.2 L387.0 353.6 L388.0 354.0 L389.0 354.4 L390.0 354.8 L391.0 355.2 L392.0 355.7 L393.0 356.2 L394.0 356.7 L395.0 357.2 L396.0 357.7 L397.0 358.3 L398.0 358.9 L399.0 359.5 L400.0 360.1 L401.0 360.8 L402.0 361.4 L403.0 362.1 L404.0 362.8 L405.0 363.6 L406.0 364.3 L407.0 365.1 L408.0 365.8 L409.0 366.6 L410.0 367.5 L411.0 368.3 L412.0 369.2 L413.0 370.0 L414.0 370.9 L415.0 371.8 L416.0 372.8 L417.0 373.7 L418.0 374.7 L419.0 375.7 L420.0 376.7 L421.0 377.7 L422.0 378.7 L423.0 379.8 L424.0 380.9 L425.0 382.0 L426.0 383.1 L427.0 384.2 L428.0 385.3 L429.0 386.5 L430.0 387.7 L431.0 388.9 L432.0 390.1 L433.0 391.3 L434.0 392.6 L435.0 393.8 L436.0 395.1 L437.0 396.4 L438.0 397.7 L439.0 399.0 L440.0 400.4 L441.0 401.7 L442.0 403.1 L443.0 404.5 L444.0 405.9 L445.0 407.3 L446.0 408.7 L447.0 410.2 L448.0 411.7 L449.0 413.2 L450.0 414.7 L451.0 416.3 L452.0 417.8 L453.0 419.5 L454.0 421.1 L455.0 422.7 L456.0 424.4 L457.0 426.1 L458.0 427.8 L459.0 429.5 L460.0 431.2 L461.0 432.9 L462.0 434.7 L463.0 436.4 L464.0 438.1 L465.0 439.8 L466.0 441.5 L467.0 443.1 L468.0 444.9 L469.0 446.6 L470.0 448.3 L471.0 450.0 L472.0 451.7 L473.0 453.5 L474.0 455.2 L475.0 456.9 L476.0 458.7 L477.0 460.4 L478.0 462.2 L479.0 464.0 L480.0 465.7 L481.0 467.5 L482.0 469.3 L483.0 471.1 L484.0 472.9 L485.0 474.7 L486.0 476.5 L487.0 478.3 L488.0 480.1 L489.0 481.9 L490.0 483.7 L491.0 485.5 L492.0 487.4 L493.0 489.2 L494.0 491.0 L495.0 492.9 L496.0 494.7 L497.0 496.6 L498.0 498.4 L499.0 500.3 L500.0 502.2 L501.0 504.1 L502.0 505.9 L503.0 507.8 L504.0 509.7 L505.0 511.6 L506.0 513.5 L507.0 515.4 L508.0 517.3 L509.0 519.2 L510.0 521.1 L511.0 523.0 L512.0 524.9 L513.0 526.9 L514.0 528.8 L515.0 530.7 L516.0 532.6 L517.0 534.6 L518.0 536.5 L519.0 538.4 L520.0 540.4 L521.0 542.3 L522.0 544.3 L523.0 546.2 L524.0 548.2 L525.0 550.1 L526.0 552.1 L527.0 554.1 L528.0 556.0 L529.0 558.0 L530.0 560.0 L531.0 561.9 L532.0 563.9 L533.0 565.9 L534.0 567.9 L535.0 569.8 L536.0 571.8 L537.0 573.8 L538.0 575.8 L539.0 577.7 L540.0 579.7 L541.0 581.7 L542.0 583.7 L543.0 585.7 L544.0 587.7 L545.0 589.6 L546.0 591.6 L547.0 593.6 L548.0 595.6 L549.0 597.6 L550.0 599.6 L551.0 601.5 L552.0 603.5 L553.0 605.5 L554.0 607.5 L555.0 609.5 L556.0 611.4 L557.0 613.4 L558.0 615.4 L559.0 617.4 L560.0 619.3 L561.0 621.3 L562.0 623.3 L563.0 625.3 L564.0 627.2 L565.0 629.2 L566.0 631.2 L567.0 633.1 L568.0 635.1 L569.0 637.0 L570.0 639.0 L571.0 640.9 L572.0 642.9 L573.0 644.8 L574.0 646.8 L575.0 648.7 L576.0 650.6 L577.0 652.6 L578.0 654.5 L579.0 656.4 L580.0 658.0" fill="none" stroke="#000" stroke-width="1.7" stroke-dasharray="5.2 3"/>
<path d="M160.2 60.7 L161.2 61.8 L162.2 62.9 L163.2 64.0 L164.2 65.1 L165.2 66.1 L166.2 67.2 L167.2 68.3 L168.2 69.3 L169.2 70.4 L170.2 71.5 L171.2 72.5 L172.2 73.6 L173.2 74.7 L174.2 75.7 L175.2 76.8 L176.2 77.8 L177.2 78.9 L178.2 79.9 L179.2 81.0 L180.2 82.0 L181.2 83.1 L182.2 84.1 L183.2 85.2 L184.2 86.2 L185.2 87.3 L186.2 88.3 L187.2 89.3 L188.2 90.4 L189.2 91.4 L190.2 92.4 L191.2 93.5 L192.2 94.5 L193.2 95.5 L194.2 96.6 L195.2 97.6 L196.2 98.6 L197.2 99.7 L198.2 100.7 L199.2 101.7 L200.2 102.7 L201.2 103.8 L202.2 104.8 L203.2 105.8 L204.2 106.8 L205.2 107.9 L206.2 108.9 L207.2 109.9 L208.2 110.9 L209.2 111.9 L210.2 113.0 L211.2 114.0 L212.2 115.0 L213.2 116.0 L214.2 117.0 L215.2 118.1 L216.2 119.1 L217.2 120.1 L218.2 121.1 L219.2 122.1 L220.2 123.1 L221.2 124.2 L222.2 125.2 L223.2 126.2 L224.2 127.2 L225.2 128.2 L226.2 129.2 L227.2 130.2 L228.2 131.3 L229.2 132.3 L230.2 133.3 L231.2 134.3 L232.2 135.3 L233.2 136.3 L234.2 137.4 L235.2 138.4 L236.2 139.4 L237.2 140.4 L238.2 141.4 L239.2 142.5 L240.2 143.5 L241.2 144.5 L242.2 145.5 L243.2 146.5 L244.2 147.6 L245.2 148.6 L246.2 149.6 L247.2 150.6 L248.2 151.6 L249.2 152.7 L250.2 153.7 L251.2 154.7 L252.2 155.7 L253.2 156.8 L254.2 157.8 L255.2 158.8 L256.2 159.9 L257.2 160.9 L258.2 161.9 L259.2 163.0 L260.2 164.0 L261.2 165.0 L262.2 166.1 L263.2 167.1 L264.2 168.2 L265.2 169.2 L266.2 170.2 L267.2 171.3 L268.2 172.3 L269.2 173.4 L270.2 174.4 L271.2 175.5 L272.2 176.5 L273.2 177.6 L274.2 178.6 L275.2 179.7 L276.2 180.7 L277.2 181.8 L278.2 182.9 L279.2 183.9 L280.2 185.0 L281.2 186.0 L282.2 187.1 L283.2 188.2 L284.2 189.2 L285.2 190.3 L286.2 191.4 L287.2 192.5 L288.2 193.5 L289.2 194.6 L290.2 195.7 L291.2 196.8 L292.2 197.8 L293.2 198.9 L294.2 200.0 L295.2 201.1 L296.2 202.2 L297.2 203.2 L298.2 204.3 L299.2 205.4 L300.2 206.5 L301.2 207.6 L302.2 208.6 L303.2 209.7 L304.2 210.8 L305.2 211.9 L306.2 213.0 L307.2 214.1 L308.2 215.2 L309.2 216.2 L310.2 217.3 L311.2 218.4 L312.2 219.5 L313.2 220.6 L314.2 221.7 L315.2 222.8 L316.2 223.8 L317.2 224.9 L318.2 226.0 L319.2 227.1 L320.2 228.2 L321.2 229.3 L322.2 230.3 L323.2 231.4 L324.2 232.5 L325.2 233.6 L326.2 234.7 L327.2 235.8 L328.2 236.8 L329.2 237.9 L330.2 239.0 L331.2 240.1 L332.2 241.1 L333.2 242.2 L334.2 243.3 L335.2 244.4 L336.2 245.4 L337.2 246.5 L338.2 247.6 L339.2 248.6 L340.2 249.7 L341.2 250.8 L342.2 251.8 L343.2 252.9 L344.2 254.0 L345.2 255.0 L346.2 256.1 L347.2 257.1 L348.2 258.2 L349.2 259.3 L350.2 260.3 L351.2 261.4 L352.2 262.4 L353.2 263.5 L354.2 264.6 L355.2 265.6 L356.2 266.7 L357.2 267.8 L358.2 268.8 L359.2 269.9 L360.2 271.0 L361.2 272.0 L362.2 273.1 L363.2 274.2 L364.2 275.3 L365.2 276.4 L366.2 277.4 L367.2 278.5 L368.2 279.6 L369.2 280.7 L370.2 281.8 L371.2 282.9 L372.2 284.0 L373.2 285.2 L374.2 286.3 L375.2 287.4 L376.2 288.5 L377.2 289.7 L378.2 290.8 L379.2 291.9 L380.2 293.1 L381.2 294.2 L382.2 295.4 L383.2 296.6 L384.2 297.8 L385.2 298.9 L386.2 300.1 L387.2 301.3 L388.2 302.5 L389.2 303.7 L390.2 304.9 L391.2 306.2 L392.2 307.4 L393.2 308.6 L394.2 309.9 L395.2 311.2 L396.2 312.4 L397.2 313.7 L398.2 315.0 L399.2 316.3 L400.2 317.6 L401.2 318.9 L402.2 320.2 L403.2 321.6 L404.2 322.9 L405.2 324.2 L406.2 325.6 L407.2 327.0 L408.2 328.4 L409.2 329.8 L410.2 331.2 L411.2 332.6 L412.2 334.0 L413.2 335.5 L414.2 336.9 L415.2 338.4 L416.2 339.9 L417.2 341.4 L418.2 342.9 L419.2 344.4 L420.2 345.9 L421.2 347.5 L422.2 349.0 L423.2 350.6 L424.2 352.2 L425.2 353.8 L426.2 355.4 L427.2 357.0 L428.2 358.6 L429.2 360.2 L430.2 361.9 L431.2 363.5 L432.2 365.2 L433.2 366.9 L434.2 368.6 L435.2 370.3 L436.2 372.0 L437.2 373.7 L438.2 375.4 L439.2 377.2 L440.2 378.9 L441.2 380.7 L442.2 382.5 L443.2 384.2 L444.2 386.0 L445.2 387.8 L446.2 389.8 L447.2 391.8 L448.2 393.9 L449.2 395.9 L450.2 397.8 L451.2 399.5 L452.2 401.0 L453.2 402.2 L454.2 403.8 L455.2 405.7 L456.2 407.6 L457.2 409.5 L458.2 411.5 L459.2 413.5 L460.2 415.4 L461.2 417.5 L462.2 419.5 L463.2 421.5 L464.2 423.5 L465.2 425.6 L466.2 427.6 L467.2 429.7 L468.2 431.7 L469.2 433.7 L470.2 435.8 L471.2 437.8 L472.2 439.8 L473.2 441.9 L474.2 443.9 L475.2 445.9 L476.2 448.0 L477.2 450.0 L478.2 452.0 L479.2 454.1 L480.2 456.1 L481.2 458.1 L482.2 460.2 L483.2 462.2 L484.2 464.2 L485.2 466.3 L486.2 468.3 L487.2 470.3 L488.2 472.4 L489.2 474.4 L490.2 476.4 L491.2 478.4 L492.2 480.5 L493.2 482.5 L494.2 484.5 L495.2 486.6 L496.2 488.6 L497.2 490.6 L498.2 492.6 L499.2 494.7 L500.2 496.7 L501.2 498.7 L502.2 500.8 L503.2 502.8 L504.2 504.8 L505.2 506.8 L506.2 508.9 L507.2 510.9 L508.2 512.9 L509.2 514.9 L510.2 517.0 L511.2 519.0 L512.2 521.0 L513.2 523.0 L514.2 525.0 L515.2 527.1 L516.2 529.1 L517.2 531.1 L518.2 533.1 L519.2 535.1 L520.2 537.2 L521.2 539.2 L522.2 541.2 L523.2 543.2 L524.2 545.2 L525.2 547.2 L526.2 549.3 L527.2 551.3 L528.2 553.3 L529.2 555.3 L530.2 557.3 L531.2 559.3 L532.2 561.4 L533.2 563.4 L534.2 565.4 L535.2 567.4 L536.2 569.4 L537.2 571.4 L538.2 573.4 L539.2 575.4 L540.2 577.4 L541.2 579.4 L542.2 581.5 L543.2 583.5 L544.2 585.5 L545.2 587.5 L546.2 589.5 L547.2 591.5 L548.2 593.5 L549.2 595.5 L550.2 597.5 L551.2 599.5 L552.2 601.5 L553.2 603.5 L554.2 605.5 L555.2 607.5 L556.2 609.5 L557.2 611.5 L558.2 613.5 L559.2 615.5 L560.2 617.5 L561.2 619.5 L562.2 621.5 L563.2 623.5 L564.2 625.5 L565.2 627.5 L566.2 629.5 L567.2 631.5 L568.2 633.5 L569.2 635.5 L570.2 637.5 L571.2 639.4 L572.2 641.4 L573.2 643.4 L574.2 645.4 L575.2 647.4 L576.2 649.4 L577.2 651.4 L578.2 653.4 L579.2 655.4 L580.0 656.8" fill="none" stroke="#000" stroke-width="1.7" stroke-dasharray="0.2 3.23" stroke-linecap="round"/>
<text x="42.55" y="697.60" font-size="22.2">10</text><text transform="translate(68.55 686.90) scale(1 1.1)" font-size="17.5">-7</text><text x="42.55" y="641.77" font-size="22.2">10</text><text transform="translate(68.55 631.07) scale(1 1.1)" font-size="17.5">-6</text><text x="42.55" y="585.93" font-size="22.2">10</text><text transform="translate(68.55 575.23) scale(1 1.1)" font-size="17.5">-5</text><text x="42.55" y="530.10" font-size="22.2">10</text><text transform="translate(68.55 519.40) scale(1 1.1)" font-size="17.5">-4</text><text x="42.55" y="474.27" font-size="22.2">10</text><text transform="translate(68.55 463.57) scale(1 1.1)" font-size="17.5">-3</text><text x="42.55" y="418.43" font-size="22.2">10</text><text transform="translate(68.55 407.73) scale(1 1.1)" font-size="17.5">-2</text><text x="42.55" y="362.60" font-size="22.2">10</text><text transform="translate(68.55 351.90) scale(1 1.1)" font-size="17.5">-1</text><text x="49.75" y="306.77" font-size="22.2">10</text><text transform="translate(74.73 296.07) scale(1 1.1)" font-size="17.5">0</text><text x="49.75" y="250.93" font-size="22.2">10</text><text transform="translate(73.86 240.23) scale(1 1.1)" font-size="17.5">1</text><text x="49.75" y="195.10" font-size="22.2">10</text><text transform="translate(74.63 184.40) scale(1 1.1)" font-size="17.5">2</text><text x="49.75" y="139.27" font-size="22.2">10</text><text transform="translate(74.56 128.57) scale(1 1.1)" font-size="17.5">3</text><text x="49.75" y="83.43" font-size="22.2">10</text><text transform="translate(75.06 72.73) scale(1 1.1)" font-size="17.5">4</text><text x="49.75" y="27.60" font-size="22.2">10</text><text transform="translate(74.38 16.90) scale(1 1.1)" font-size="17.5">5</text><text x="83.85" y="724.50" font-size="22.2">10</text><text transform="translate(107.55 711.80) scale(1 1.1)" font-size="17.5">-1</text><text x="167.30" y="724.50" font-size="22.2">10</text><text transform="translate(190.55 711.8) scale(1 1.1)" font-size="17.5">0</text><text x="247.05" y="724.50" font-size="22.2">10</text><text transform="translate(270.30 711.8) scale(1 1.1)" font-size="17.5">1</text><text x="326.80" y="724.50" font-size="22.2">10</text><text transform="translate(350.05 711.8) scale(1 1.1)" font-size="17.5">2</text><text x="406.55" y="724.50" font-size="22.2">10</text><text transform="translate(429.80 711.8) scale(1 1.1)" font-size="17.5">3</text><text x="486.30" y="724.50" font-size="22.2">10</text><text transform="translate(509.55 711.8) scale(1 1.1)" font-size="17.5">4</text><text x="566.05" y="724.50" font-size="22.2">10</text><text transform="translate(589.30 711.8) scale(1 1.1)" font-size="17.5">5</text><text x="249.68" y="754.30" font-size="21.6">Kinetic Energy (MeV)</text><text transform="translate(25.2,472) rotate(-90)" font-size="21.95">Intensity Part./(m<tspan dy="-10" font-size="17.5">2</tspan><tspan dy="10">.s.sr.MeV)</tspan></text><text x="363.18" y="48.20" font-size="21.6">PROTONS</text><text x="337.58" y="75.50" font-size="21.6">ELECTRONS</text><text x="123.05" y="90.00" font-size="22.2">100</text><text x="127.91" y="136.80" font-size="22.2">50</text><text x="125.80" y="204.90" font-size="21.6">1 AU</text><text x="286.98" y="175.30" font-size="21.6">LIS 150 AU</text><text x="157.05" y="304.00" font-size="22.2">100</text><text x="201.11" y="360.00" font-size="22.2">50</text><text x="255.55" y="399.00" font-size="22.2">1</text><text x="233.75" y="582.80" font-size="21.6">mfp with kink at 0.1 GV</text>
</svg>
</body></html>
